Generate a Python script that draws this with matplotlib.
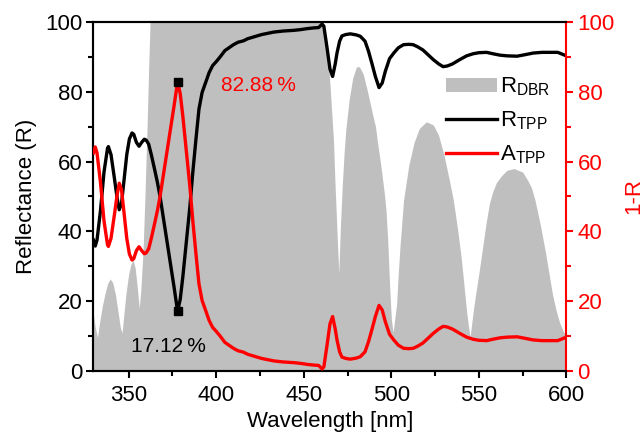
import numpy as np
import matplotlib
matplotlib.use("Agg")
import matplotlib.pyplot as plt
from matplotlib.patches import Patch
from matplotlib.lines import Line2D
from matplotlib.ticker import MultipleLocator

plt.rcParams['font.family'] = ['Liberation Sans', 'DejaVu Sans']
plt.rcParams['mathtext.fontset'] = 'custom'
plt.rcParams['mathtext.rm'] = 'Liberation Sans'

# DBR reflectance (%) vs wavelength (nm)
dbr_wl = [330, 331, 332.3, 333.5, 335, 336.5, 338, 339.5, 341, 342.5, 344, 345.3, 346.3,
          347.3, 348.5, 350, 351.3, 352.6, 353.8, 355, 356.1, 357, 358.3, 359.5, 360.7,
          361.5, 362.3, 460, 461.5, 463, 464.5, 466, 467, 468, 469, 470,
          471, 472, 473, 474, 476, 478, 480, 481, 482, 484, 486, 488, 490, 491, 492,
          494, 496, 497, 498, 499, 500, 501,
          502, 503, 504, 505, 507, 510, 513, 516, 520, 524, 527, 530, 533, 535.4,
          538, 540, 542, 543, 544, 545,
          546, 547, 548, 550, 552, 554, 556, 558, 560, 563, 566, 570, 575, 578,
          580, 582, 585, 588, 590, 592, 594, 596, 598, 600]
dbr_r = [16, 12.5, 9.7, 14, 18.5, 22, 25, 26.4, 25.3, 22, 17, 12.5, 10.9,
         16, 22, 27.5, 30.5, 31.8, 29.5, 24, 18, 23, 34.6, 52, 72,
         87, 100, 100, 98.5, 94, 86, 74, 66, 52, 40, 28,
         42, 53, 62, 69, 78, 84, 87, 87.3, 87, 85, 81, 76.5, 72, 70, 66,
         59, 51, 46, 37, 25, 15, 11,
         15, 19, 28, 36, 49, 59, 65.5, 69.5, 71.4, 70.5, 67.5, 62, 55, 49,
         40, 32, 22, 17, 13, 9.8,
         14, 18, 21.5, 28, 35, 42, 48, 51.5, 54, 56, 57.5, 58, 57, 54.5,
         52.5, 49, 42, 34, 28, 22, 17.5, 14, 11.5, 9.8]

# Tamm-plasmon structure reflectance (%)
tpp_wl = [330, 331, 332, 334, 336, 338, 338.5, 340, 342, 343.5, 344.7, 346, 347.5, 349,
          350.5, 352, 353, 354.5, 356, 357.5, 359, 360, 361.5, 363, 365, 366.5, 368,
          370, 372, 374, 376, 378, 379.5, 381, 383, 385, 386.7, 388.6, 390.2, 392,
          394.4, 396, 398, 400, 402.3, 405, 409.9, 412.5, 415.6, 418, 421.3, 426,
          432.8, 438, 444.2, 448, 452, 455.6, 458.5, 460.5, 461.5, 463.2, 465, 466.5,
          468, 469, 470.5, 471.8, 474, 476.6, 480, 482.3, 485, 487, 489, 490.9, 493,
          494.8, 496.6, 499, 501.4, 504, 507, 510, 512.5, 515, 518, 521, 524, 527,
          529.6, 532, 535, 539, 543, 546.7, 550, 554.4, 558, 562, 566, 571.8, 576,
          581, 586, 590.9, 595, 599.4, 600]
tpp_r = [37.5, 35.8, 37.5, 46, 57, 63.8, 64.3, 62, 55, 49.5, 46.2, 48, 55, 62,
         66.5, 68.2, 67.8, 65.5, 64.4, 65.5, 66.4, 66.2, 65, 62, 57.5, 54, 50,
         43.5, 37, 30.5, 24, 17.12, 20.5, 27, 37, 47, 57, 67, 75, 79.8,
         83.2, 85.5, 87.5, 88.6, 90, 91.8, 93.5, 94.2, 94.6, 95.2, 95.7, 96.4,
         97.1, 97.4, 97.6, 97.8, 98.1, 98.3, 98.4, 99.4, 98.8, 93, 86.5, 84.4,
         88, 91.1, 94.5, 96, 96.4, 96.6, 96.3, 95.9, 94.5, 91.6, 88, 84.4, 81.2,
         82.5, 85.9, 89.5, 91.1, 92.6, 93.5, 93.6, 93.5, 92.9, 92, 90.6, 89.2, 88,
         87.2, 87.4, 88, 89.2, 90.3, 90.9, 91.2, 91.3, 90.9, 90.5, 90.3, 90.2, 90.6,
         91.1, 91.3, 91.3, 91.3, 90.4, 90.4]

# Absorption of the Tamm structure, A = 1 - R (no transmission)
tpp_a = [100 - v for v in tpp_r]

peak_wl = 378
peak_r = 17.12
peak_a = 82.88

GRAY = '#bfbfbf'
RED = '#ff0000'
FS = 16

fig = plt.figure(figsize=(6.43, 4.32), dpi=100)
ax = fig.add_axes([0.1454, 0.1412, 0.7356, 0.8079])
ax2 = ax.twinx()

ax.fill_between(dbr_wl, 0, dbr_r, color=GRAY, lw=0, zorder=1)
ax.plot(tpp_wl, tpp_r, color='black', lw=2.4, zorder=3, solid_joinstyle='round')
ax2.plot(tpp_wl, tpp_a, color=RED, lw=2.4, zorder=3, solid_joinstyle='round')
ax2.plot([peak_wl], [peak_a], 's', color='black', ms=6, zorder=5)
ax.plot([peak_wl], [peak_r], 's', color='black', ms=6, zorder=5)

ax.set_xlim(330, 600)
ax.set_ylim(0, 100)
ax2.set_ylim(0, 100)

ax.xaxis.set_major_locator(MultipleLocator(50))
ax.xaxis.set_minor_locator(MultipleLocator(25))
for a in (ax, ax2):
    a.yaxis.set_major_locator(MultipleLocator(20))
    a.yaxis.set_minor_locator(MultipleLocator(10))

ax.tick_params(axis='both', which='major', direction='out', length=5, width=1.5,
               labelsize=FS, pad=5)
ax.tick_params(axis='both', which='minor', direction='out', length=3.5, width=1.5)
ax.tick_params(axis='x', top=False, which='both')
ax.tick_params(axis='y', which='major', pad=3)
ax2.tick_params(axis='y', which='major', direction='out', length=5, width=1.5,
                labelsize=FS, pad=3, colors=RED)
ax2.tick_params(axis='y', which='minor', direction='out', length=3.5, width=1.5,
                colors=RED)

for s in ('left', 'top', 'bottom'):
    ax.spines[s].set_linewidth(1.5)
    ax2.spines[s].set_linewidth(1.5)
ax2.spines['right'].set_color(RED)
ax2.spines['right'].set_linewidth(1.5)
ax.spines['right'].set_visible(False)

ax.set_xlabel('Wavelength [nm]', fontsize=FS, labelpad=4)
ax.set_ylabel('Reflectance (R)', fontsize=FS, labelpad=6)
ax2.set_ylabel('1-R', fontsize=FS, color=RED, labelpad=6)

ax.text(351.5, 7, '17.12\u2009%', fontsize=15, color='black', va='center', ha='left',
        zorder=6)
ax.text(403, 81.8, '82.88\u2009%', fontsize=15, color=RED, va='center', ha='left',
        zorder=6)

handles = [Patch(facecolor=GRAY, edgecolor='none'),
           Line2D([], [], color='black', lw=2.4),
           Line2D([], [], color=RED, lw=2.4)]
labels = ['R$_\\mathregular{DBR}$', 'R$_\\mathregular{TPP}$', 'A$_\\mathregular{TPP}$']
ax2.legend(handles, labels, loc='upper left', bbox_to_anchor=(0.745, 0.846),
           frameon=False, fontsize=FS, handlelength=2.3, handleheight=0.55,
           handletextpad=0.15, labelspacing=0.5, borderpad=0, borderaxespad=0)

fig.savefig('out.png', dpi=100)
